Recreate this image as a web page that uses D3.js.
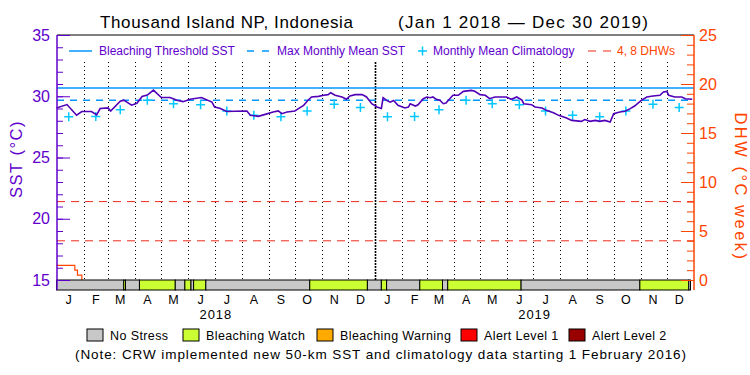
<!DOCTYPE html>
<html>
<head>
<meta charset="utf-8">
<script src="https://cdn.jsdelivr.net/npm/d3@7"></script>
<style>
  body { margin: 0; background: #fff; }
  svg { display: block; font-family: "Liberation Sans", Arial, sans-serif; }
</style>
</head>
<body>
<div id="chart-area"></div>
<script>

// ---- data ----
// days counted from 1 Jan 2018
var sstDay = [0, 12, 23, 29, 40, 46, 50, 59, 62, 73, 77, 86, 92, 98, 104, 111, 120, 130, 138, 145,
  153, 166, 178, 181, 187, 195, 204, 218, 222, 231, 239, 248, 254, 258, 264, 273, 277, 283, 288, 292,
  300, 306, 311, 314, 319, 327, 332, 336, 342, 350, 355, 361, 367, 372, 374, 378, 382, 386, 391, 399,
  403, 405, 411, 414, 420, 424, 428, 431, 435, 439, 443, 446, 449, 454, 460, 466, 475, 479, 485, 491,
  496, 502, 515, 521, 527, 533, 535, 544, 548, 556, 561, 569, 575, 584, 590, 601, 605, 611, 617, 622,
  628, 634, 638, 645, 651, 657, 662, 670, 676, 683, 691, 695, 699, 701, 708, 716, 720, 728];
var sstValue = [29.05, 29.32, 28.45, 28.75, 28.75, 28.48, 29.0, 29.05, 28.8, 29.6, 29.68, 29.27, 29.42, 29.98, 30.1, 30.5, 29.9, 29.9, 29.68, 29.56,
  29.75, 29.9, 29.52, 29.12, 29.02, 28.75, 28.77, 28.8, 28.44, 28.36, 28.52, 28.71, 28.8, 28.58, 28.71, 28.8, 28.99, 29.26, 29.67, 29.94,
  29.99, 30.08, 30.13, 30.29, 30.08, 29.94, 29.75, 30.02, 30.13, 30.13, 29.94, 29.39, 29.12, 29.0, 29.88, 29.66, 29.52, 29.66, 29.26, 29.04,
  29.12, 29.39, 29.2, 29.3, 29.8, 29.94, 29.88, 29.94, 29.75, 29.68, 29.39, 29.45, 29.7, 30.08, 30.08, 30.4, 30.48, 30.4, 30.13, 30.08,
  29.8, 29.94, 29.94, 29.75, 29.94, 29.68, 29.39, 29.31, 29.12, 29.04, 28.85, 28.66, 28.44, 28.22, 28.03, 27.95, 28.1, 27.95, 28.03, 27.95,
  28.03, 27.9, 28.58, 28.71, 28.77, 28.99, 29.2, 29.68, 29.94, 30.02, 30.08, 30.35, 30.4, 30.08, 29.94, 29.94, 29.8, 29.75];

var climValue = [28.32, 28.34, 28.9, 29.67, 29.39, 29.31, 28.8, 28.44, 28.33, 28.8, 29.34, 29.08];
var climYears = [2018, 2019];
var mmm = 29.68;
var threshold = 30.68;

var dhwDay = [0, 21, 24, 29];
var dhwValue = [1.5, 1.0, 0.5, 0];
var dhwLevels = [4, 8];

var statusStart = ["2018-01-01", "2018-03-19", "2018-03-21", "2018-04-06", "2018-05-17", "2018-05-28", "2018-06-04",
  "2018-06-07", "2018-06-21", "2018-10-18", "2018-12-23", "2019-01-08", "2019-01-14", "2019-02-21", "2019-03-19",
  "2019-03-25", "2019-06-17", "2019-10-31", "2019-12-26"];
var statusEnd = ["2018-03-19", "2018-03-21", "2018-04-06", "2018-05-17", "2018-05-28", "2018-06-04", "2018-06-07",
  "2018-06-21", "2018-10-18", "2018-12-23", "2019-01-08", "2019-01-14", "2019-02-21", "2019-03-19", "2019-03-25",
  "2019-06-17", "2019-10-31", "2019-12-26", "2019-12-28"];
var statusLevel = [0, 1, 0, 1, 0, 1, 0, 1, 0, 1, 0, 1, 0, 1, 0, 1, 0, 1, 0];

var monthLabels = ["J", "F", "M", "A", "M", "J", "J", "A", "S", "O", "N", "D"];
var yearLabels = ["2018", "2019"];
var legendLabels = ["No Stress", "Bleaching Watch", "Bleaching Warning", "Alert Level 1", "Alert Level 2"];
var legendColors = ["#c8c8c8", "#ccff33", "#ffaa00", "#ff0000", "#990000"];

// ---- layout ----
var W = 750, H = 375;
var pLeft = 57, pRight = 694, pTop = 35, pBottom = 280, stripBottom = 290;
var purple = "#6000cc", lineCol = "#5200b8", red = "#ff4400", dashRed = "#ee2a1a", blue = "#0096ff", cyan = "#00c8ff";

var svg = d3.select("#chart-area").append("svg").attr("width", W).attr("height", H);

var t0 = new Date(Date.UTC(2018, 0, 1));
var t1 = new Date(Date.UTC(2020, 0, 1));
var day = d => d3.utcDay.offset(t0, d);
var parse = d3.utcParse("%Y-%m-%d");

var x = d3.scaleUtc().domain([t0, t1]).range([pLeft - 0.5, pRight]);
var y = d3.scaleLinear().domain([15, 35]).range([pBottom, pTop]);
var yDhw = d3.scaleLinear().domain([0, 25]).range([pBottom, pTop]);

// month grid (starts below the legend)
var months = d3.utcMonth.range(d3.utcMonth.offset(t0, 1), t1);
svg.append("g").selectAll("line").data(months).enter().append("line")
  .attr("x1", d => Math.round(x(d)) + 0.5).attr("x2", d => Math.round(x(d)) + 0.5)
  .attr("y1", 62).attr("y2", pBottom)
  .attr("stroke", "#000")
  .attr("stroke-width", d => d.getUTCMonth() == 0 ? 1.6 : 1)
  .attr("stroke-dasharray", d => d.getUTCMonth() == 0 ? "2,1" : "1,3");

// threshold + MMM
svg.append("line").attr("x1", pLeft).attr("x2", pRight).attr("y1", y(threshold)).attr("y2", y(threshold))
  .attr("stroke", blue).attr("stroke-width", 1.5);
svg.append("line").attr("x1", pLeft).attr("x2", pRight).attr("y1", y(mmm)).attr("y2", y(mmm))
  .attr("stroke", blue).attr("stroke-width", 1.5).attr("stroke-dasharray", "7,6");

// DHW 4, 8 lines
svg.append("g").selectAll("line").data(dhwLevels).enter().append("line")
  .attr("x1", pLeft).attr("x2", pRight)
  .attr("y1", d => yDhw(d)).attr("y2", d => yDhw(d))
  .attr("stroke", dashRed).attr("stroke-width", 1).attr("stroke-dasharray", "8,6");

// climatology crosses
var clim = [];
climYears.forEach(yr => climValue.forEach((v, i) => clim.push({ date: new Date(Date.UTC(yr, i, 15)), v: v })));
svg.append("g").selectAll("path").data(clim).enter().append("path")
  .attr("d", d => {
    var cx = x(d.date), cy = y(d.v), s = 4.5;
    return "M" + (cx - s) + "," + cy + "H" + (cx + s) + "M" + cx + "," + (cy - s) + "V" + (cy + s);
  })
  .attr("stroke", cyan).attr("stroke-width", 1.5).attr("fill", "none");

// SST line
var sst = sstDay.map((d, i) => ({ date: day(d), v: sstValue[i] }));
svg.append("path").datum(sst)
  .attr("d", d3.line().x(d => x(d.date)).y(d => y(d.v)))
  .attr("fill", "none").attr("stroke", lineCol).attr("stroke-width", 1.6);

// DHW line
var dhw = dhwDay.map((d, i) => ({ date: day(d), v: dhwValue[i] }));
svg.append("path").datum(dhw)
  .attr("d", d3.line().curve(d3.curveStepAfter).x(d => x(d.date)).y(d => yDhw(d.v)))
  .attr("fill", "none").attr("stroke", red).attr("stroke-width", 1.2);

// status strip
svg.append("g").selectAll("rect").data(statusLevel).enter().append("rect")
  .attr("x", (d, i) => x(parse(statusStart[i])))
  .attr("width", (d, i) => x(parse(statusEnd[i])) - x(parse(statusStart[i])))
  .attr("y", pBottom).attr("height", stripBottom - pBottom)
  .attr("fill", d => legendColors[d])
  .attr("stroke", "#000").attr("stroke-width", 1);

// frame
svg.append("line").attr("x1", pLeft).attr("x2", pRight).attr("y1", pTop).attr("y2", pTop).attr("stroke", "#000").attr("stroke-width", 1.2);

// left axis (SST)
var lAxis = svg.append("g").attr("transform", "translate(" + pLeft + ",0)");
lAxis.append("g").call(d3.axisLeft(y).tickValues(d3.range(15, 36, 1)).tickSize(-6).tickSizeOuter(0).tickFormat(""));
lAxis.append("g").call(d3.axisLeft(y).tickValues([15, 20, 25, 30, 35]).tickSize(-13).tickSizeOuter(0).tickPadding(7));
lAxis.selectAll(".domain").remove();
lAxis.selectAll("line").attr("stroke", purple);
lAxis.selectAll("text").attr("fill", purple).attr("font-size", 16).attr("font-family", "Liberation Sans, Arial, sans-serif");
lAxis.append("line").attr("y1", pTop).attr("y2", stripBottom).attr("stroke", purple).attr("stroke-width", 1.5);

// right axis (DHW)
var rAxis = svg.append("g").attr("transform", "translate(" + pRight + ",0)");
rAxis.append("g").call(d3.axisRight(yDhw).tickValues(d3.range(0, 26, 1)).tickSize(-7).tickSizeOuter(0).tickFormat(""));
rAxis.append("g").call(d3.axisRight(yDhw).tickValues([0, 5, 10, 15, 20, 25]).tickSize(-13).tickSizeOuter(0).tickPadding(5));
rAxis.selectAll(".domain").remove();
rAxis.selectAll("line").attr("stroke", red);
rAxis.selectAll("text").attr("fill", red).attr("font-size", 16).attr("font-family", "Liberation Sans, Arial, sans-serif");
rAxis.append("line").attr("y1", pTop).attr("y2", stripBottom).attr("stroke", red).attr("stroke-width", 1.5);

// month & year labels
var mids = d3.utcMonth.range(t0, t1).map(d => new Date(Date.UTC(d.getUTCFullYear(), d.getUTCMonth(), 15)));
svg.append("g").selectAll("text").data(mids).enter().append("text")
  .attr("x", d => x(d)).attr("y", 304)
  .attr("text-anchor", "middle").attr("font-size", 12.5)
  .text(d => monthLabels[d.getUTCMonth()]);
svg.append("g").selectAll("text").data(yearLabels).enter().append("text")
  .attr("x", d => (x(new Date(Date.UTC(+d, 0, 1))) + x(new Date(Date.UTC(+d + 1, 0, 1)))) / 2)
  .attr("y", 319).attr("text-anchor", "middle").attr("font-size", 13).attr("letter-spacing", 1)
  .text(d => d);

// title
svg.append("text").attr("x", 100).attr("y", 28).attr("font-size", 17)
  .attr("textLength", 253).attr("lengthAdjust", "spacing").text("Thousand Island NP, Indonesia");
svg.append("text").attr("x", 398).attr("y", 28).attr("font-size", 17)
  .attr("textLength", 250).attr("lengthAdjust", "spacing").text("(Jan 1 2018 \u2014 Dec 30 2019)");

// axis titles
svg.append("text").attr("transform", "translate(22,159) rotate(-90)").attr("text-anchor", "middle")
  .attr("font-size", 16.5).attr("letter-spacing", 1.5).attr("fill", purple).text("SST (\u00b0C)");
svg.append("text").attr("transform", "translate(735,187) rotate(90)").attr("text-anchor", "middle")
  .attr("font-size", 16.5).attr("letter-spacing", 2.5).attr("fill", red).text("DHW (\u00b0C week)");

// top legend
var lg = svg.append("g").attr("font-size", 12).attr("fill", purple);
lg.append("line").attr("x1", 69).attr("x2", 92).attr("y1", 51).attr("y2", 51).attr("stroke", blue).attr("stroke-width", 1.5);
lg.append("text").attr("x", 99).attr("y", 55).text("Bleaching Threshold SST");
lg.append("line").attr("x1", 247).attr("x2", 269).attr("y1", 51).attr("y2", 51).attr("stroke", blue).attr("stroke-width", 1.5).attr("stroke-dasharray", "7,8");
lg.append("text").attr("x", 277).attr("y", 55).text("Max Monthly Mean SST");
lg.append("path").attr("d", "M418,51H427M422.5,46.5V55.5").attr("stroke", cyan).attr("stroke-width", 1.5);
lg.append("text").attr("x", 433).attr("y", 55).text("Monthly Mean Climatology");
lg.append("line").attr("x1", 588).attr("x2", 611).attr("y1", 51).attr("y2", 51).attr("stroke", dashRed).attr("stroke-width", 1.2).attr("stroke-dasharray", "8,7");
lg.append("text").attr("x", 617).attr("y", 55).attr("fill", red).text("4, 8 DHWs");

// status legend
var boxX = [87, 183, 317, 461, 569];
var sl = svg.append("g").selectAll("g").data(legendLabels).enter().append("g")
  .attr("transform", (d, i) => "translate(" + boxX[i] + ",329)");
sl.append("rect").attr("width", 16).attr("height", 12).attr("fill", (d, i) => legendColors[i]).attr("stroke", "#000");
sl.append("text").attr("x", 23).attr("y", 11).attr("font-size", 12.5).attr("letter-spacing", 0.4).text(d => d);

svg.append("text").attr("x", 75).attr("y", 359).attr("font-size", 13.5)
  .attr("textLength", 611).attr("lengthAdjust", "spacing")
  .text("(Note: CRW implemented new 50-km SST and climatology data starting 1 February 2016)");

</script>
</body>
</html>
